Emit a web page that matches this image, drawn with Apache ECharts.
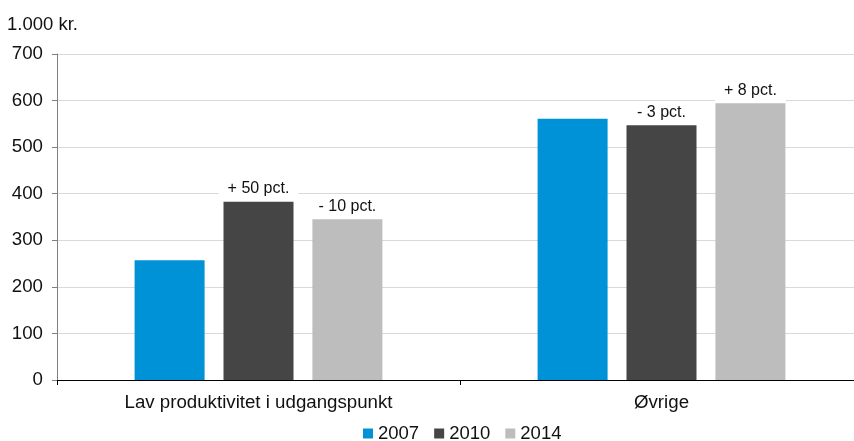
<!DOCTYPE html>
<html><head><meta charset="utf-8">
<script src="https://cdn.jsdelivr.net/npm/echarts@6/dist/echarts.min.js"></script>
<style>html,body{margin:0;padding:0;background:#fff;overflow:hidden;width:854px;height:441px}#c{width:864px;height:441px}</style>
</head><body><div id="c"></div>
<script>
const categories = ['Lav produktivitet i udgangspunkt', 'Øvrige'];
const seriesNames = ['2007', '2010', '2014'];
const values2007 = [257, 561];
const values2010 = [383, 547];
const values2014 = [345, 594];
const labels2010 = ['+ 50 pct.', '- 3 pct.'];
const labels2014 = ['- 10 pct.', '+ 8 pct.'];
const yTicks = [0, 100, 200, 300, 400, 500, 600, 700];
const colors = ['#0092d6', '#454545', '#bdbdbd'];
const FONT = 'Liberation Sans, Arial, sans-serif';

const lbl = (arr) => ({
  show: true, position: 'top', distance: 2,
  formatter: p => arr[p.dataIndex],
  color: '#111', fontSize: 16, fontFamily: FONT,
  backgroundColor: '#fff', padding: [3, 9]
});

const chart = echarts.init(document.getElementById('c'), null, {renderer: 'canvas'});
chart.setOption({
  animation: false,
  textStyle: {fontFamily: FONT},
  title: {text: '1.000 kr.', left: 7, top: 15, padding: 0,
    textStyle: {fontSize: 18.5, fontWeight: 'normal', color: '#111', fontFamily: FONT}},
  legend: {
    data: seriesNames, left: 363, top: 424, icon: 'rect', padding: 0,
    itemWidth: 10, itemHeight: 10, itemGap: 15,
    textStyle: {fontSize: 18.5, color: '#111', fontFamily: FONT, padding: [0,0,0,0]}
  },
  grid: {left: 57, top: 54, width: 806, height: 326, containLabel: false},
  xAxis: {
    type: 'category', data: categories,
    axisLine: {lineStyle: {color: '#000', width: 1}},
    axisTick: {show: true, length: 5, lineStyle: {color: '#000'}},
    axisLabel: {fontSize: 18.7, color: '#111', margin: 13, fontFamily: FONT}
  },
  yAxis: {
    type: 'value', min: yTicks[0], max: yTicks[yTicks.length-1], interval: 100,
    axisLine: {show: true, lineStyle: {color: '#7f7f7f'}},
    axisTick: {show: true, length: 5, lineStyle: {color: '#7f7f7f'}},
    axisLabel: {fontSize: 18.7, color: '#111', margin: 14, fontFamily: FONT},
    splitLine: {lineStyle: {color: '#d9d9d9', width: 1}}
  },
  series: [
    {name: seriesNames[0], type: 'bar', data: values2007, barWidth: 70, barGap: '27%',
     itemStyle: {color: colors[0]}},
    {name: seriesNames[1], type: 'bar', data: values2010, barWidth: 70, barGap: '27%',
     itemStyle: {color: colors[1]}, label: lbl(labels2010)},
    {name: seriesNames[2], type: 'bar', data: values2014, barWidth: 70, barGap: '27%',
     itemStyle: {color: colors[2]}, label: lbl(labels2014)}
  ]
});
</script></body></html>
